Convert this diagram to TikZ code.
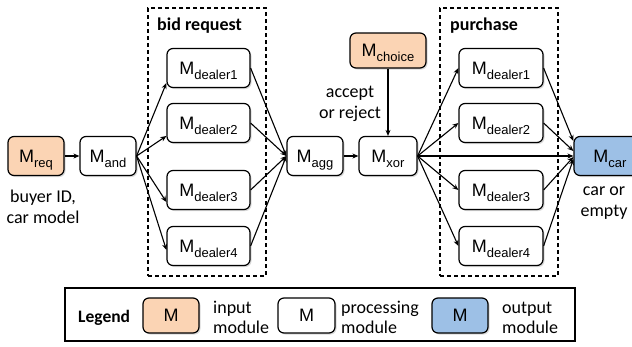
\documentclass[tikz,border=0pt]{standalone}
\usepackage{fontspec}
\setmainfont{Carlito}
\newfontfamily\arialf{Liberation Sans}
\usetikzlibrary{arrows.meta,shadows}
\definecolor{inpc}{HTML}{FBD4B4}
\definecolor{outc}{HTML}{9DC0E6}
\newcommand{\Mx}[1]{{\arialf\fontsize{18}{18}\selectfont M\raisebox{-5pt}{\fontsize{13}{13}\selectfont #1}}}
\begin{document}
\begin{tikzpicture}[x=1pt,y=-1pt,
 mod/.style={draw, line width=1.2pt, rounded corners=6pt, fill=white, minimum width=56pt, minimum height=39pt, inner sep=0pt, text height=13pt, text depth=1pt, drop shadow={shadow xshift=1.5pt,shadow yshift=-1.5pt,opacity=0.3}},
 dmod/.style={mod, minimum width=83pt},
 inmod/.style={mod, fill=inpc},
 outmod/.style={mod, fill=outc},
 arr/.style={-{Stealth[length=6pt,width=5pt]}, line width=1.1pt},
 grp/.style={draw, line width=1.2pt, dash pattern=on 4pt off 3pt, inner sep=0pt},
 lbl/.style={font=\fontsize{18}{21}\selectfont, align=center, inner sep=0pt},
 hdr/.style={font=\fontsize{18}{21}\selectfont\bfseries, inner sep=0pt, anchor=base west},
 leg/.style={font=\fontsize{18}{20}\selectfont, align=left, inner sep=0pt, anchor=base west},
]
\clip (0,0) rectangle (632,346);
% groups
\node[grp, minimum width=118pt, minimum height=268pt] (bidbox) at (207,142) {};
\node[grp, minimum width=118pt, minimum height=268pt] (purbox) at (499,142) {};
\node[hdr] (bidlbl) at (157,30) {bid request};
\node[hdr] (purlbl) at (450,30) {purchase};
% modules
\node[inmod] (req) at (36,156) {\Mx{req}};
\node[mod] (nand) at (108,156) {\Mx{and}};
\node[dmod] (bd1) at (208.5,68) {\Mx{dealer1}};
\node[dmod] (bd2) at (208.5,123) {\Mx{dealer2}};
\node[dmod] (bd3) at (208.5,190) {\Mx{dealer3}};
\node[dmod] (bd4) at (208.5,246) {\Mx{dealer4}};
\node[mod] (agg) at (315,156) {\Mx{agg}};
\node[mod, minimum width=58pt] (xor) at (388,156) {\Mx{xor}};
\node[inmod, minimum width=76pt, minimum height=35pt] (choice) at (388,50.5) {\Mx{choice}};
\node[dmod, minimum width=84pt] (pd1) at (501,68) {\Mx{dealer1}};
\node[dmod, minimum width=84pt] (pd2) at (501,123) {\Mx{dealer2}};
\node[dmod, minimum width=84pt] (pd3) at (501,190) {\Mx{dealer3}};
\node[dmod, minimum width=84pt] (pd4) at (501,246) {\Mx{dealer4}};
\node[outmod, minimum width=72pt] (car) at (610,156) {\Mx{car}};
% labels (base = last line)
\node[lbl, anchor=base] (buyer) at (43,223) {buyer ID,\\car model};
\node[lbl, anchor=base] (accept) at (350,118) {accept\\or reject};
\node[lbl, anchor=base] (carlbl) at (604,216) {car or\\empty};
% connectors
\draw[arr] (req) -- (nand);
\draw[arr] (nand.east) -- ([yshift=-15pt]bd1.west);
\draw[arr] (nand.east) -- ([yshift=-13pt]bd2.west);
\draw[arr] (nand.east) -- ([yshift=-12pt]bd3.west);
\draw[arr] (nand.east) -- ([yshift=-4pt]bd4.west);
\foreach \n in {bd1,bd2,bd3,bd4} \draw[arr] (\n.east) -- (agg.west);
\draw[arr] (agg) -- (xor);
\draw[arr] (choice) -- (xor);
\foreach \n in {pd1,pd2,pd3,pd4} \draw[arr] (xor.east) -- (\n.west);
\draw[arr] (xor.east) -- (car.west);
\draw[arr] (pd1.east) -- ([yshift=15pt]car.west);
\draw[arr] (pd2.east) -- ([yshift=5pt]car.west);
\draw[arr] (pd3.east) -- ([yshift=-1pt]car.west);
\draw[arr] (pd4.east) -- ([yshift=-3pt]car.west);
% legend
\node[draw, line width=1.2pt, minimum width=510pt, minimum height=53pt, inner sep=0pt] (legend) at (320,314.5) {};
\node[font=\fontsize{17.5}{17.5}\selectfont\bfseries, inner sep=0pt, anchor=base west] (legtitle) at (78,322) {Legend};
\node[inmod, minimum height=35pt] (lin) at (171,315.5) {\arialf\fontsize{18}{18}\selectfont M};
\node[leg] (lintxt) at (213,333) {input\\module};
\node[mod, minimum width=57pt, minimum height=35pt] (lproc) at (306.5,315.5) {\arialf\fontsize{18}{18}\selectfont M};
\node[leg] (lproctxt) at (341,333) {processing\\module};
\node[outmod, minimum height=35pt] (lout) at (460,315.5) {\arialf\fontsize{18}{18}\selectfont M};
\node[leg] (louttxt) at (502,333) {output\\module};
\end{tikzpicture}
\end{document}
